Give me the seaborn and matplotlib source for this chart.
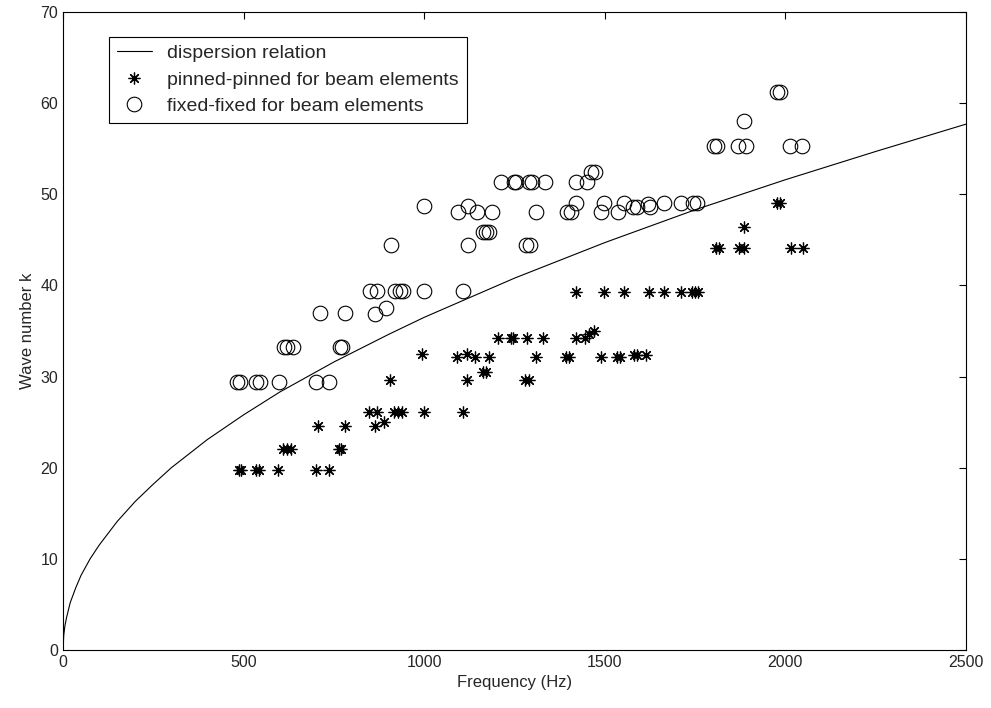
import matplotlib
matplotlib.use("Agg")
import matplotlib.pyplot as plt
import seaborn as sns
import pandas as pd

# dispersion relation
disp_freq = [0, 2, 5, 10, 20, 35, 50, 75, 100, 150, 200, 250, 300, 400, 500, 600, 750,
             900, 1000, 1250, 1500, 1750, 2000, 2250, 2500]
disp_k = [0, 1.6, 2.6, 3.6, 5.2, 6.8, 8.2, 10.0, 11.5, 14.1, 16.3, 18.2, 20.0, 23.1,
          25.8, 28.3, 31.6, 34.6, 36.5, 40.8, 44.7, 48.3, 51.6, 54.7, 57.7]

# pinned-pinned points
pp_freq = [487, 492, 535, 542, 595, 700, 735,
           610, 620, 630, 763, 770,
           707, 780, 865, 890,
           848, 868, 915, 928, 938, 1000, 1108,
           905, 1118, 1278, 1290,
           995, 1090, 1118, 1140, 1180, 1310, 1393, 1400, 1490, 1533, 1542, 1580, 1588, 1615,
           1162, 1170,
           1205, 1240, 1247, 1285, 1330, 1420, 1445, 1455, 1470,
           1420, 1497, 1553, 1623, 1665, 1710, 1742, 1750, 1758,
           1808, 1815, 1872, 1885, 2015, 2050,
           1885,
           1978, 1985]
pp_k = [19.7] * 7 + [22.1] * 5 + [24.6, 24.6, 24.6, 25.0] + [26.1] * 7 + [29.6] * 4 + \
       [32.5, 32.1, 32.5, 32.1, 32.1, 32.1, 32.1, 32.1, 32.1, 32.1, 32.1, 32.4, 32.4, 32.4] + \
       [30.5] * 2 + [34.2] * 7 + [34.7, 35.0] + [39.3] * 9 + [44.1] * 6 + [46.4] + [49.0] * 2

# fixed-fixed points
ff_freq = [482, 490, 535, 545, 598, 700, 737,
           612, 620, 638, 767, 772,
           712, 780, 865, 893,
           850, 870, 920, 932, 942, 1000, 1108,
           908, 1122, 1282, 1293,
           1000, 1093, 1120, 1145, 1187, 1310, 1395, 1405, 1490, 1537, 1578, 1625,
           1420, 1498, 1553, 1588, 1620, 1665, 1710, 1745, 1755,
           1162, 1170, 1178,
           1213, 1248, 1255, 1290, 1297, 1335, 1420, 1450,
           1462, 1474,
           1802, 1810, 1868, 1890, 2012, 2045,
           1885,
           1978, 1986]
ff_k = [29.4] * 7 + [33.2] * 5 + [37.0, 37.0, 36.9, 37.5] + [39.4] * 7 + [44.4] * 4 + \
       [48.7, 48.1, 48.7, 48.1, 48.1, 48.1, 48.1, 48.1, 48.1, 48.1, 48.6, 48.6] + \
       [49.0, 49.0, 49.0, 48.6, 48.9, 49.0, 49.0, 49.0, 49.0] + [45.9] * 3 + \
       [51.3] * 8 + [52.5] * 2 + [55.3] * 6 + [58.0] + [61.2] * 2

sns.set_style("white")
plt.rcParams['font.family'] = ['Liberation Sans', 'DejaVu Sans']

fig = plt.figure(figsize=(9.91, 7.08), dpi=100)
ax = fig.add_axes([0.0636, 0.082, 0.9112, 0.901])

disp = pd.DataFrame({'f': disp_freq, 'k': disp_k})
pp = pd.DataFrame({'f': pp_freq, 'k': pp_k})
ff = pd.DataFrame({'f': ff_freq, 'k': ff_k})

sns.lineplot(data=disp, x='f', y='k', ax=ax, color='black', linewidth=0.8,
             label='dispersion relation')
ax.plot(pp['f'], pp['k'], linestyle='none', marker=(8, 2, 0), markersize=8.5,
        color='black', markeredgewidth=0.9, label='pinned-pinned for beam elements')
ax.plot(ff['f'], ff['k'], linestyle='none', marker='o', markersize=10.5,
        markerfacecolor='none', markeredgecolor='black', markeredgewidth=0.8,
        label='fixed-fixed for beam elements')

ax.set_xlim(0, 2500)
ax.set_ylim(0, 70)
ax.set_xticks(range(0, 2501, 500))
ax.set_yticks(range(0, 71, 10))
ax.tick_params(direction='in', length=5, top=True, right=True, labelsize=11.5,
               color='black')
for s in ax.spines.values():
    s.set_color('black')
    s.set_linewidth(0.8)
ax.set_xlabel('Frequency (Hz)', fontsize=12)
ax.set_ylabel('Wave number k', fontsize=12)

leg = ax.legend(loc='upper left', bbox_to_anchor=(0.051, 0.961), borderaxespad=0,
                fancybox=False, edgecolor='black', framealpha=1, fontsize=14,
                handlelength=1.8, handletextpad=0.8, borderpad=0.4, labelspacing=0.45)
leg.get_frame().set_linewidth(0.8)

fig.savefig('out.png', dpi=100)
